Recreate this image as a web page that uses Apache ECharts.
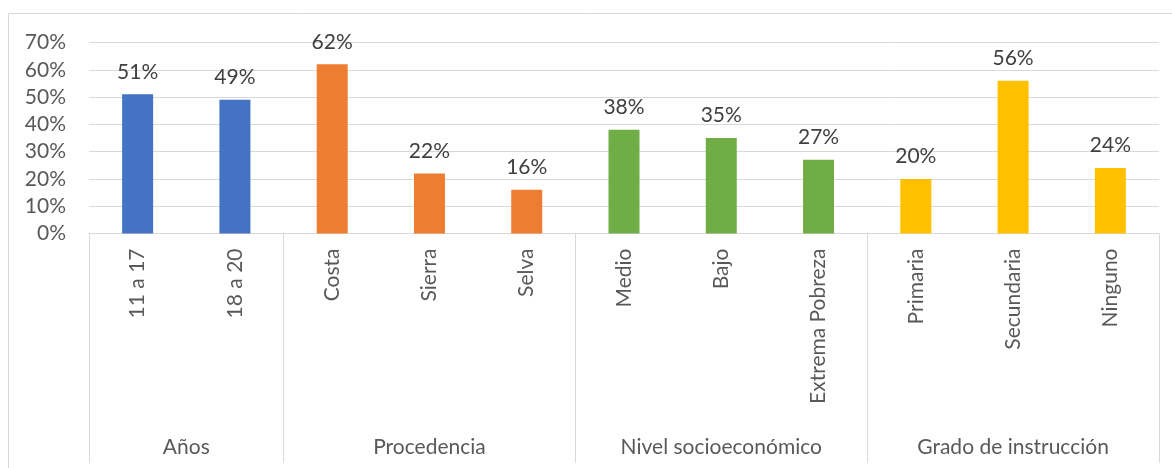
<!DOCTYPE html>
<html>
<head>
<meta charset="utf-8">
<script src="https://cdn.jsdelivr.net/npm/echarts@6/dist/echarts.min.js"></script>
<style>
  html, body { margin: 0; padding: 0; background: #ffffff; }
  #chart { width: 1172px; height: 468px; }
</style>
</head>
<body>
<div id="chart"></div>
<script>
// Categories, grouped by variable
const categories = ['11 a 17', '18 a 20', 'Costa', 'Sierra', 'Selva', 'Medio', 'Bajo', 'Extrema Pobreza', 'Primaria', 'Secundaria', 'Ninguno'];
const values = [51, 49, 62, 22, 16, 38, 35, 27, 20, 56, 24];
const groupNames = ['Años', 'Procedencia', 'Nivel socioeconómico', 'Grado de instrucción'];
const groupSizes = [2, 3, 3, 3];
const groupColors = ['#4472C4', '#ED7D31', '#70AD47', '#FFC000'];
const yTicks = [0, 10, 20, 30, 40, 50, 60, 70];

const FONT = 'Lato';
const FS = 21;
const TEXT = '#595959';
const LINE = '#D9D9D9';

// group index of each category, and boundary positions between groups
const groupOf = [];
const boundaries = [0];
groupSizes.forEach((n, g) => {
  for (let i = 0; i < n; i++) groupOf.push(g);
  boundaries.push(boundaries[boundaries.length - 1] + n);
});
// centre of each group, in category units (0 .. categories.length)
const groupCenters = groupSizes.map((n, g) => boundaries[g] + n / 2);

const chart = echarts.init(document.getElementById('chart'));

chart.setOption({
  animation: false,
  backgroundColor: '#ffffff',
  textStyle: { fontFamily: FONT },
  graphic: [{
    type: 'rect',
    shape: { x: 8.5, y: 13.5, width: 1200, height: 500 },
    style: { fill: 'none', stroke: LINE, lineWidth: 1 },
    silent: true
  }],
  grid: { left: 89, right: 13, top: 42.5, bottom: 234.5, containLabel: false },
  xAxis: [{
    type: 'category',
    data: categories,
    boundaryGap: true,
    axisLine: { show: true, lineStyle: { color: LINE, width: 1 } },
    axisTick: {
      show: true,
      length: 229,
      interval: (index) => boundaries.indexOf(index) !== -1,
      lineStyle: { color: LINE, width: 1 }
    },
    axisLabel: {
      rotate: 90,
      interval: 0,
      margin: 15,
      color: TEXT,
      fontSize: FS,
      fontFamily: FONT
    },
    splitLine: { show: false }
  }, {
    // group names under the category labels
    type: 'value',
    position: 'bottom',
    min: 0,
    max: categories.length,
    offset: 196,
    axisLine: { show: false },
    axisTick: { show: false },
    splitLine: { show: false },
    axisLabel: {
      customValues: groupCenters,
      margin: 7,
      color: TEXT,
      fontSize: FS,
      fontFamily: FONT,
      formatter: (v) => {
        const g = groupCenters.indexOf(v);
        return g === -1 ? '' : groupNames[g];
      }
    }
  }],
  yAxis: {
    type: 'value',
    min: yTicks[0],
    max: yTicks[yTicks.length - 1],
    interval: 10,
    axisLine: { show: false },
    axisTick: { show: false },
    axisLabel: {
      formatter: '{value}%',
      margin: 23,
      color: TEXT,
      fontSize: FS,
      fontFamily: FONT
    },
    splitLine: { show: true, lineStyle: { color: LINE, width: 1 } }
  },
  series: [{
    type: 'bar',
    xAxisIndex: 0,
    barWidth: 31,
    data: values.map((v, i) => ({ value: v, itemStyle: { color: groupColors[groupOf[i]] } })),
    label: {
      show: true,
      position: 'top',
      distance: 12,
      formatter: '{c}%',
      color: '#404040',
      fontSize: FS,
      fontFamily: FONT
    }
  }]
});
</script>
</body>
</html>
